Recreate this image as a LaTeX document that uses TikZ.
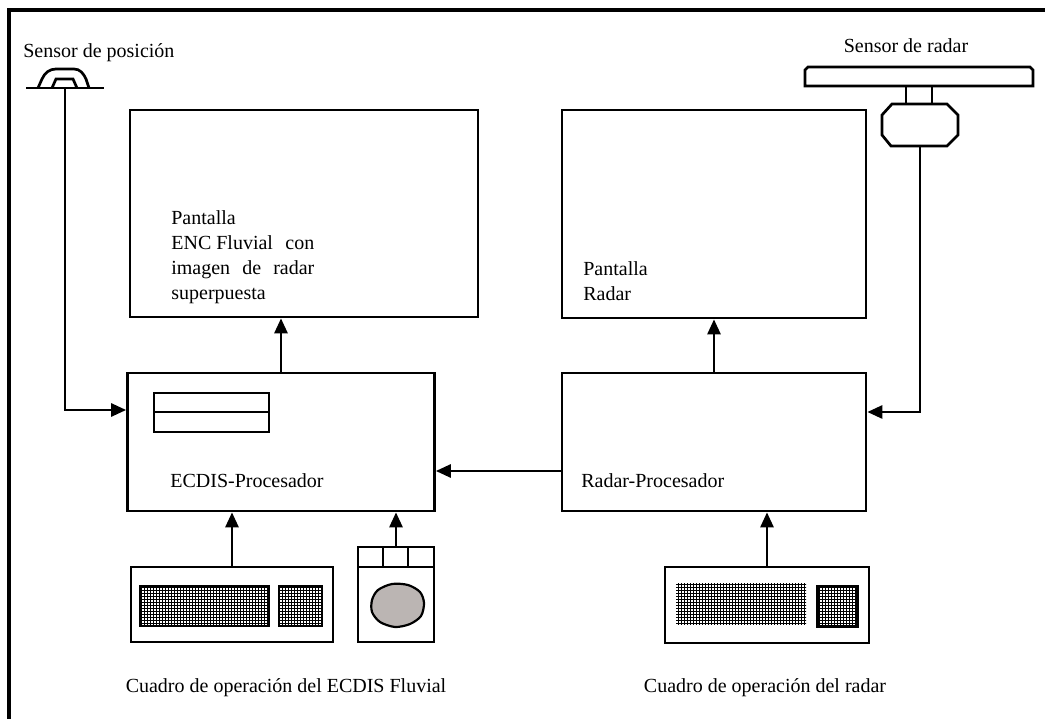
\documentclass[tikz,border=0pt]{standalone}
\usepackage{fontspec}
\setmainfont{Liberation Serif}
\usepackage{tikz}
\usetikzlibrary{arrows.meta,patterns}

\definecolor{ballgray}{HTML}{BBB5B3}

\begin{document}
\begin{tikzpicture}[x=1pt,y=-1pt,>={Triangle[length=15pt,width=13pt]},line width=2.7pt,
    font=\fontsize{20}{25}\selectfont,
    box/.style={draw,line width=2.7pt,inner sep=0pt},
    txt/.style={inner sep=0pt,align=left},
    keys/.style={pattern=grid,pattern color=black}]
      \useasboundingbox (0,0) rectangle (1045,719);
      \draw[line width=3.5pt] (1045,10) -- (9,10) -- (9,719);

      % boxes
      \node[box,minimum width=348pt,minimum height=207pt] (encdisp) at (304,213.5) {};
      \node[box,minimum width=304pt,minimum height=208pt] (radardisp) at (714,214) {};
      \node[box,minimum width=307pt,minimum height=138pt] (ecdisproc) at (281,442) {};
      \node[box,minimum width=304pt,minimum height=138pt] (radarproc) at (714,442) {};
      \node[box,minimum width=202pt,minimum height=75pt] (ecdiskbd) at (232,604.5) {};
      \node[box,minimum width=76pt,minimum height=95pt] (trackball) at (396,594.5) {};
      \node[box,minimum width=204pt,minimum height=76pt] (radarkbd) at (767,605) {};

      % texts
      \node[txt,anchor=north west] (encdisptxt) at (170,209.5)
        {Pantalla\\\makebox[143pt]{ENC Fluvial\hfill con}\\\makebox[143pt][s]{imagen de radar}\\superpuesta};
      \node[txt,anchor=north west] (radardisptxt) at (582,260) {Pantalla\\Radar};
      \node[txt,anchor=base west] (ecdisproctxt) at (169,487) {ECDIS-Procesador};
      \node[txt,anchor=base west] (radarproctxt) at (580,487) {Radar-Procesador};
      \node[txt,anchor=base] (ecdiskbdtxt) at (286,692) {Cuadro de operación del ECDIS Fluvial};
      \node[txt,anchor=base] (radarkbdtxt) at (765,692) {Cuadro de operación del radar};
      \node[txt,anchor=base west] (possenstxt) at (22,58) {Sensor de posición};
      \node[txt,anchor=base] (radarsenstxt) at (906,53) {Sensor de radar};

      % position sensor
      \draw (26,88) -- (104,88);
      \draw (38,88) -- (42,79) to[out=65,in=180] (56,69) -- (74,69)
        to[out=0,in=115] (86,79) -- (89,88);
      \draw (52,88) -- (56,79) -- (73,79) -- (77,88);
      \coordinate (possens) at (65,88);

      % radar sensor
      \draw (808,67) -- (1030,67) -- (1033,70) -- (1033,86) -- (805,86) -- (805,70) -- cycle;
      \draw (906,86) -- (906,104) (932,86) -- (932,104);
      \draw (892,104) -- (947,104) -- (958,115) -- (958,135) -- (947,146)
        -- (891,146) -- (882,135) -- (882,115) -- cycle;
      \coordinate (radarsens) at (920,146);

      % inner details
      \draw (154,393) rectangle (269,432) (154,412) -- (269,412);
      \draw[keys,line width=2.2pt] (140,586) rectangle (269,626);
      \draw[keys,line width=2.2pt] (279,586) rectangle (322,626);
      \fill[keys] (676,583) rectangle (806,624);
      \draw[keys,line width=3pt] (817,586) rectangle (857,626);
      \draw (358,567) -- (434,567) (383,547) -- (383,567) (408,547) -- (408,567);
      \draw[fill=ballgray,line width=2.2pt] plot[smooth cycle] coordinates
        {(372,600) (378,590) (392,584) (408,585) (420,592) (424,603)
         (421,616) (410,624) (395,627) (380,622) (372,612)};

      % connections
      \draw[->] (ecdisproc.north) -- (ecdisproc.north |- encdisp.south);
      \draw[->] (radarproc.north) -- (radardisp.south);
      \draw[->] ([yshift=-29pt]radarproc.west) -- ([yshift=-29pt]radarproc.west -| ecdisproc.east);
      \draw[->] (possens) |- ([yshift=32pt]ecdisproc.west);
      \draw[->] (radarsens) |- ([yshift=30pt]radarproc.east);
      \draw[->] (ecdiskbd.north) -- (ecdiskbd.north |- ecdisproc.south);
      \draw[->] (trackball.north) -- (trackball.north |- ecdisproc.south);
      \draw[->] (radarkbd.north) -- (radarkbd.north |- radarproc.south);
    \end{tikzpicture}
\end{document}
